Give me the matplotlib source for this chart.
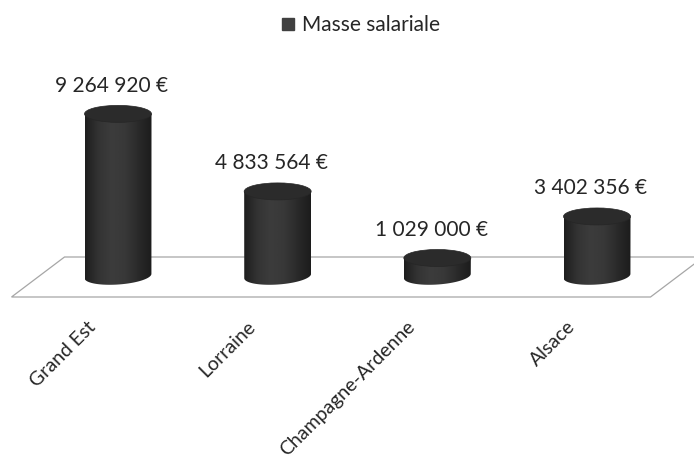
import numpy as np
import matplotlib
matplotlib.use("Agg")
import matplotlib.pyplot as plt
from matplotlib.patches import Ellipse, Polygon, PathPatch
from matplotlib.path import Path
from matplotlib.lines import Line2D
from matplotlib.colors import LinearSegmentedColormap

regions = ["Grand Est", "Lorraine", "Champagne-Ardenne", "Alsace"]
masse = [9264920, 4833564, 1029000, 3402356]
series_name = "Masse salariale"

plt.rcParams['font.family'] = ['Lato', 'DejaVu Sans']
TXT = '#262626'


def euro(v):
    return f"{v:,}".replace(",", " ") + " €"


W, H = 694, 465
fig = plt.figure(figsize=(W / 100, H / 100), dpi=100)
ax = fig.add_axes([0, 0, 1, 1])
ax.axis('off')

# data units per pixel
ux = 1 / 159.67
uy = 1e6 / 17.5
xlim = (-118 * ux, (W - 118) * ux)
ylim = (-(H - 276) * uy, 276 * uy)

x = np.arange(len(regions))

# floor (3D base plane)
mid = x.mean()
hw, dx, dy, yf = 319.5 * ux, 26.5 * ux, 20 * uy, -1 * uy
floor = Polygon([(mid - hw - dx, yf - dy), (mid + hw - dx, yf - dy),
                 (mid + hw + dx, yf + dy), (mid - hw + dx, yf + dy)],
                closed=True, facecolor='white', edgecolor='#a6a6a6', lw=0.9, zorder=1)
ax.add_patch(floor)

cmap = LinearSegmentedColormap.from_list(
    'cyl', ['#1e1e1e', '#333333', '#3c3c3c', '#383838', '#2a2a2a', '#1c1c1c'])
grad = np.linspace(0, 1, 200).reshape(1, -1)

rx, ry = 33.5 * ux, 8.5 * uy
tilt = np.radians(4)
t = np.linspace(np.pi, 2 * np.pi, 60)
for i, v in zip(x, masse):
    # body: side rectangle + lower half of the (slightly tilted) bottom ellipse
    ex, ey = rx * np.cos(t), ry * np.sin(t)
    px_ = ex / ux * np.cos(tilt) - ey / uy * np.sin(tilt)
    py_ = ex / ux * np.sin(tilt) + ey / uy * np.cos(tilt)
    arc = np.column_stack([i + px_ * ux, py_ * uy])
    verts = np.vstack([[(i - rx, v)], arc, [(i + rx, v)], [(i - rx, v)]])
    body = PathPatch(Path(verts, closed=True), facecolor='none', edgecolor='none')
    ax.add_patch(body)
    im = ax.imshow(grad, cmap=cmap, extent=[i - rx, i + rx, -2 * ry, v + ry],
                   aspect='auto', zorder=2, interpolation='bilinear')
    im.set_clip_path(body)
    ax.add_patch(Ellipse((i, v), 2 * rx, 2 * ry, angle=0,
                         facecolor='#2b2b2b', edgecolor='#262626', lw=0.5, zorder=3))
    ax.annotate(euro(v), xy=(i, v), xytext=(-6, 28), textcoords='offset pixels',
                ha='center', va='center', fontsize=15, color=TXT)
    ax.annotate(regions[i], xy=(i, 0), xytext=(-31, -42), textcoords='offset pixels',
                ha='right', va='top', rotation=45, rotation_mode='anchor',
                fontsize=14, color=TXT)

ax.set_xlim(*xlim)
ax.set_ylim(*ylim)

handle = Line2D([], [], marker='s', color='#404040', linestyle='none', markersize=9)
fig.legend([handle], [series_name], loc='center', bbox_to_anchor=(359 / W, 1 - 25 / H),
           frameon=False, handletextpad=0.2, fontsize=15, labelcolor=TXT,
           handlelength=1.0)

fig.savefig('out.png', dpi=100, facecolor='white')
